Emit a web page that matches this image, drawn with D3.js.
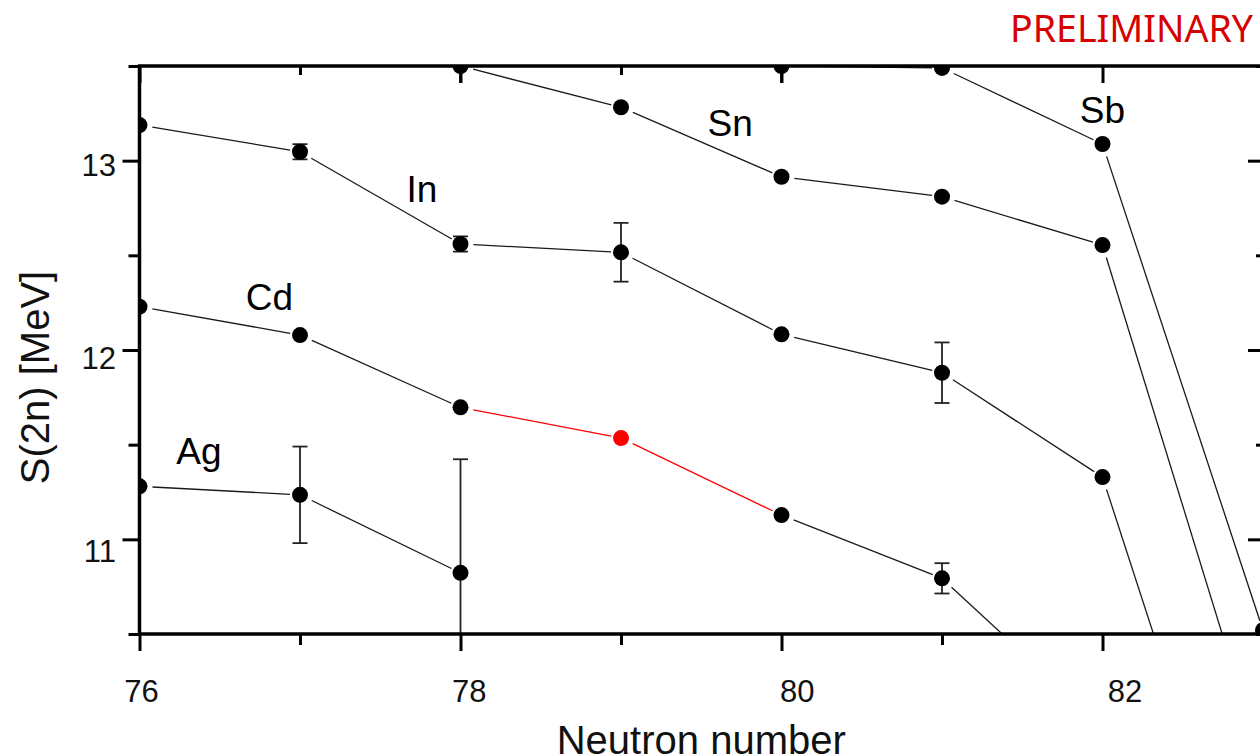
<!DOCTYPE html>
<html>
<head>
<meta charset="utf-8">
<script src="https://cdn.jsdelivr.net/npm/d3@7"></script>
<style>
  body { margin: 0; background: #fff; }
  svg { display: block; }
</style>
</head>
<body>
<div id="chart"></div>
<script>
// two-neutron separation energies (MeV)
var agN = [76, 77, 78];
var agS2n = [11.28, 11.235, 10.823];
var agErr = [0, 0.255, 0.6];

var cdN = [76, 77, 78, 79, 80, 81, 82];
var cdS2n = [12.229, 12.079, 11.697, 11.535, 11.128, 10.794, 10.01];
var cdErr = [0, 0, 0, 0, 0, 0.08, 0];

var inN = [76, 77, 78, 79, 80, 81, 82, 83];
var inS2n = [13.188, 13.047, 12.56, 12.516, 12.083, 11.88, 11.329, 8.72];
var inErr = [0, 0.04, 0.04, 0.155, 0, 0.16, 0, 0];

var snN = [78, 79, 80, 81, 82, 83];
var snS2n = [13.50, 13.282, 12.915, 12.81, 12.554, 9.80];
var snErr = [0.09, 0, 0, 0, 0, 0];

var sbN = [80, 81, 82, 83];
var sbS2n = [13.50, 13.49, 13.088, 10.52];
var sbErr = [0.09, 0, 0, 0];

var elements = ["Ag", "Cd", "In", "Sn", "Sb"];
var labelN = [76.37, 76.81, 77.76, 79.68, 82.0];
var labelS2n = [11.40, 12.21, 12.78, 13.13, 13.20];

var highlightElement = "Cd";
var highlightN = 79;

var xTicks = [76, 78, 80, 82];
var xMinor = [77, 79, 81];
var yTicks = [11, 12, 13];
var yMinor = [10.5, 11.5, 12.5, 13.5];

function init() {
    var w = 1260, h = 756;
    var left = 139.5, right = 1263, top = 66, bottom = 634;

    var svg = d3.select("#chart")
        .append("svg")
        .attr("width", w)
        .attr("height", h);

    var x = d3.scaleLinear().domain([76, 83]).range([left, right]);
    var y = d3.scaleLinear().domain([10.5, 13.5]).range([bottom, top]);

    // tick labels in the original sit on a slightly wider grid than the ticks
    var xLab = d3.scaleLinear().domain([76, 82]).range([141.5, 1125]);
    var yLab = d3.scaleLinear().domain([13, 11]).range([176, 562]);

    var series = [
        {name: "Ag", n: agN, s: agS2n, e: agErr},
        {name: "Cd", n: cdN, s: cdS2n, e: cdErr},
        {name: "In", n: inN, s: inS2n, e: inErr},
        {name: "Sn", n: snN, s: snS2n, e: snErr},
        {name: "Sb", n: sbN, s: sbS2n, e: sbErr}
    ];
    series.forEach(function(d) {
        d.points = d.n.map(function(n, i) {
            return {name: d.name, n: n, s: d.s[i], e: d.e[i]};
        });
    });

    svg.append("clipPath")
        .attr("id", "frame")
        .append("rect")
        .attr("x", left)
        .attr("y", top)
        .attr("width", right - left)
        .attr("height", bottom - top);

    var plot = svg.append("g").attr("clip-path", "url(#frame)");

    // connecting lines, stopped short of the markers
    var segs = [];
    series.forEach(function(d) {
        for (var i = 0; i < d.points.length - 1; i++) {
            segs.push([d.points[i], d.points[i + 1]]);
        }
    });

    plot.selectAll("line.seg")
        .data(segs)
        .enter()
        .append("line")
        .attr("class", "seg")
        .each(function(d) {
            var x1 = x(d[0].n), y1 = y(d[0].s), x2 = x(d[1].n), y2 = y(d[1].s);
            var len = Math.hypot(x2 - x1, y2 - y1);
            var a = 13 / len, b = 10 / len;
            d3.select(this)
                .attr("x1", x1 + (x2 - x1) * a)
                .attr("y1", y1 + (y2 - y1) * a)
                .attr("x2", x2 - (x2 - x1) * b)
                .attr("y2", y2 - (y2 - y1) * b);
        })
        .attr("stroke", function(d) {
            var hot = d[0].name === highlightElement &&
                (d[0].n === highlightN || d[1].n === highlightN);
            return hot ? "#ff0000" : "#1a1a1a";
        })
        .attr("stroke-width", 1.3);

    var allPoints = [];
    series.forEach(function(d) { allPoints = allPoints.concat(d.points); });
    var withErr = allPoints.filter(function(d) { return d.e > 0; });
    // points sitting on the frame edge get no caps, as in the original
    var capped = withErr.filter(function(d) { return d.s < 13.5; });

    // error bars
    plot.selectAll("line.stem")
        .data(withErr)
        .enter()
        .append("line")
        .attr("class", "stem")
        .attr("stroke", "#222")
        .attr("stroke-width", function(d) { return d.s < 13.5 ? 1.8 : 3; })
        .attr("x1", function(d) { return x(d.n); })
        .attr("x2", function(d) { return x(d.n); })
        .attr("y1", function(d) { return y(d.s - d.e); })
        .attr("y2", function(d) { return y(d.s + d.e); });

    var caps = plot.selectAll("g.cap")
        .data(capped)
        .enter()
        .append("g")
        .attr("class", "cap")
        .attr("stroke", "#222")
        .attr("stroke-width", 1.8);
    caps.append("line")
        .attr("x1", function(d) { return x(d.n) - 7.5; })
        .attr("x2", function(d) { return x(d.n) + 7.5; })
        .attr("y1", function(d) { return y(d.s + d.e); })
        .attr("y2", function(d) { return y(d.s + d.e); });
    caps.append("line")
        .attr("x1", function(d) { return x(d.n) - 7.5; })
        .attr("x2", function(d) { return x(d.n) + 7.5; })
        .attr("y1", function(d) { return y(d.s - d.e); })
        .attr("y2", function(d) { return y(d.s - d.e); });

    // markers
    plot.selectAll("circle")
        .data(allPoints)
        .enter()
        .append("circle")
        .attr("cx", function(d) { return x(d.n); })
        .attr("cy", function(d) { return y(d.s); })
        .attr("r", 8)
        .attr("fill", function(d) {
            return (d.name === highlightElement && d.n === highlightN) ? "#ff0000" : "#000";
        });

    // axes: ticks only, the frame is drawn separately
    function ticks(axis, tx, ty) {
        var g = svg.append("g")
            .attr("transform", "translate(" + tx + "," + ty + ")")
            .call(axis);
        g.select(".domain").remove();
        g.selectAll("line").attr("stroke", "#000").attr("stroke-width", 3);
        g.selectAll("text").remove();
    }
    ticks(d3.axisLeft(y).tickValues(yMinor).tickSize(11), left, 0);
    ticks(d3.axisLeft(y).tickValues(yTicks).tickSize(17), left, 0);
    ticks(d3.axisRight(y).tickValues(yMinor).tickSize(-7), right, 0);
    ticks(d3.axisRight(y).tickValues(yTicks).tickSize(-15), right, 0);
    ticks(d3.axisBottom(x).tickValues(xMinor).tickSize(11), 0, bottom);
    ticks(d3.axisBottom(x).tickValues(xTicks).tickSize(17), 0, bottom);
    ticks(d3.axisTop(x).tickValues(xMinor).tickSize(-9), 0, top);
    ticks(d3.axisTop(x).tickValues(xTicks).tickSize(-17), 0, top);

    svg.append("rect")
        .attr("x", left)
        .attr("y", top)
        .attr("width", right - left)
        .attr("height", bottom - top)
        .attr("fill", "none")
        .attr("stroke", "#000")
        .attr("stroke-width", 3.5);

    var font = "'Liberation Sans', Arial, sans-serif";

    svg.selectAll("text.xlab")
        .data(xTicks)
        .enter()
        .append("text")
        .attr("class", "xlab")
        .attr("x", function(d) { return xLab(d); })
        .attr("y", 702)
        .attr("text-anchor", "middle")
        .style("font-family", font)
        .style("font-size", "31px")
        .attr("fill", "#111")
        .text(function(d) { return d; });

    svg.selectAll("text.ylab")
        .data(yTicks)
        .enter()
        .append("text")
        .attr("class", "ylab")
        .attr("x", 116)
        .attr("y", function(d) { return yLab(d); })
        .attr("text-anchor", "end")
        .style("font-family", font)
        .style("font-size", "31px")
        .attr("fill", "#111")
        .text(function(d) { return d; });

    svg.append("text")
        .attr("x", (left + right) / 2)
        .attr("y", 754)
        .attr("text-anchor", "middle")
        .style("font-family", font)
        .style("font-size", "40px")
        .attr("fill", "#111")
        .text("Neutron number");

    svg.append("text")
        .attr("transform", "translate(48.5,377.5) rotate(-90)")
        .attr("text-anchor", "middle")
        .style("font-family", font)
        .style("font-size", "40px")
        .attr("fill", "#111")
        .text("S(2n) [MeV]");

    // element names
    svg.selectAll("text.el")
        .data(elements)
        .enter()
        .append("text")
        .attr("class", "el")
        .attr("x", function(d, i) { return x(labelN[i]); })
        .attr("y", function(d, i) { return y(labelS2n[i]); })
        .attr("text-anchor", "middle")
        .style("font-family", font)
        .style("font-size", "37px")
        .attr("fill", "#000")
        .text(function(d) { return d; });

    svg.append("text")
        .attr("x", 1253)
        .attr("y", 42)
        .attr("text-anchor", "end")
        .style("font-family", "'Noto Sans', sans-serif")
        .style("font-size", "37.5px")
        .attr("fill", "#d70000")
        .text("PRELIMINARY");
}

window.onload = init;
</script>
</body>
</html>
